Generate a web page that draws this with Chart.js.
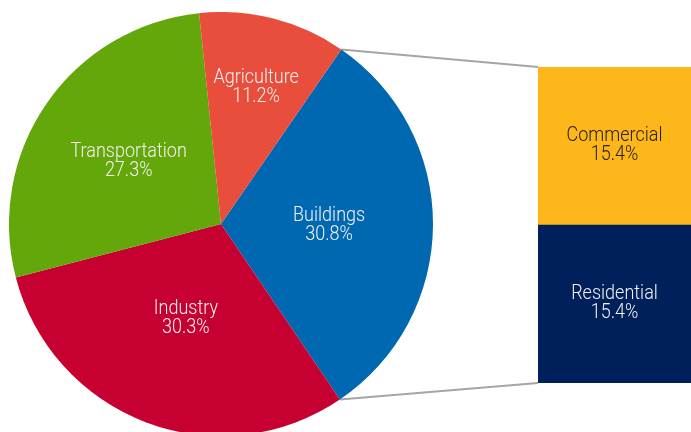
<!DOCTYPE html>
<html>
<head>
<meta charset="utf-8">
<script src="https://cdn.jsdelivr.net/npm/chart.js@4"></script>
<style>
  html, body { margin: 0; padding: 0; background: #ffffff; }
  #wrap { position: relative; width: 691px; height: 432px; overflow: hidden; }
  #lines { position: absolute; left: 0; top: 0; }
  #pieChart { position: absolute; left: 9px; top: 12px; }
  #barChart { position: absolute; left: 538px; top: 67px; }
</style>
</head>
<body>
<div id="wrap">
  <canvas id="lines" width="691" height="432"></canvas>
  <canvas id="pieChart" width="424" height="424"></canvas>
  <canvas id="barChart" width="153" height="316"></canvas>
</div>
<script>
// pie: share of emissions by sector
const sectors = ['Buildings', 'Industry', 'Transportation', 'Agriculture'];
const sectorShares = [30.8, 30.3, 27.3, 11.2];
const sectorColors = ['#0067b1', '#c70032', '#64a70b', '#e84e3b'];

// breakdown of the buildings slice (bottom of stack first)
const subSectors = ['Residential', 'Commercial'];
const subShares = [15.4, 15.4];
const subColors = ['#00205b', '#fdb71a'];
const subTextColors = ['#f2f2f2', '#222222'];

// how far out (fraction of radius) each pie label sits
const labelRadius = [0.51, 0.47, 0.53, 0.67];

const labelFont = '300 20px Roboto, sans-serif';

// the original uses a narrow face, so squeeze the text a little
function drawTwoLines(ctx, x, y, top, bottom, color) {
    ctx.save();
    ctx.font = labelFont;
    ctx.fillStyle = color;
    ctx.textAlign = 'center';
    ctx.textBaseline = 'alphabetic';
    ctx.translate(x, y);
    ctx.scale(0.9, 1);
    ctx.fillText(top, 0, -3);
    ctx.fillText(bottom, 0, 16);
    ctx.restore();
}

const pieLabels = {
    id: 'pieLabels',
    afterDatasetsDraw(chart) {
        const ctx = chart.ctx;
        const meta = chart.getDatasetMeta(0);
        meta.data.forEach((arc, i) => {
            const p = arc.getProps(['x', 'y', 'startAngle', 'endAngle', 'outerRadius'], true);
            const mid = (p.startAngle + p.endAngle) / 2;
            const r = p.outerRadius * labelRadius[i];
            const lx = p.x + Math.cos(mid) * r;
            const ly = p.y + Math.sin(mid) * r;
            drawTwoLines(ctx, lx, ly, sectors[i], sectorShares[i].toFixed(1) + '%', '#f2f2f2');
        });
    }
};

const barLabels = {
    id: 'barLabels',
    afterDatasetsDraw(chart) {
        const ctx = chart.ctx;
        chart.data.datasets.forEach((ds, i) => {
            const bar = chart.getDatasetMeta(i).data[0];
            const p = bar.getProps(['x', 'y', 'base'], true);
            drawTwoLines(ctx, p.x, (p.y + p.base) / 2 - 2, subSectors[i], subShares[i].toFixed(1) + '%', subTextColors[i]);
        });
    }
};

const pieChart = new Chart(document.getElementById('pieChart').getContext('2d'), {
    type: 'pie',
    data: {
        labels: sectors,
        datasets: [{
            data: sectorShares,
            backgroundColor: sectorColors,
            borderWidth: 0
        }]
    },
    options: {
        responsive: false,
        animation: false,
        // start so the buildings slice is centred on 3 o'clock
        rotation: 90 - sectorShares[0] * 3.6 / 2,
        layout: { padding: 0 },
        plugins: { legend: { display: false }, tooltip: { enabled: false } }
    },
    plugins: [pieLabels]
});

const barChart = new Chart(document.getElementById('barChart').getContext('2d'), {
    type: 'bar',
    data: {
        labels: ['Buildings'],
        datasets: subSectors.map((name, i) => ({
            label: name,
            data: [subShares[i]],
            backgroundColor: subColors[i],
            borderWidth: 0,
            barPercentage: 1,
            categoryPercentage: 1
        }))
    },
    options: {
        responsive: false,
        animation: false,
        layout: { padding: 0 },
        scales: {
            x: { stacked: true, display: false },
            y: { stacked: true, display: false, min: 0, max: subShares.reduce((a, b) => a + b, 0) }
        },
        plugins: { legend: { display: false }, tooltip: { enabled: false } }
    },
    plugins: [barLabels]
});

// connector lines from the buildings slice to the stacked bar
function drawConnectors() {
    const ctx = document.getElementById('lines').getContext('2d');
    const pieCanvas = document.getElementById('pieChart');
    const barCanvas = document.getElementById('barChart');
    const arc = pieChart.getDatasetMeta(0).data[0].getProps(['x', 'y', 'startAngle', 'endAngle', 'outerRadius'], true);
    const topBar = barChart.getDatasetMeta(1).data[0].getProps(['x', 'y', 'width'], true);
    const botBar = barChart.getDatasetMeta(0).data[0].getProps(['x', 'base', 'width'], true);

    const px = pieCanvas.offsetLeft, py = pieCanvas.offsetTop;
    const bx = barCanvas.offsetLeft, by = barCanvas.offsetTop;

    const a1 = [px + arc.x + Math.cos(arc.startAngle) * arc.outerRadius, py + arc.y + Math.sin(arc.startAngle) * arc.outerRadius];
    const a2 = [px + arc.x + Math.cos(arc.endAngle) * arc.outerRadius, py + arc.y + Math.sin(arc.endAngle) * arc.outerRadius];
    const b1 = [bx + topBar.x - topBar.width / 2, by + topBar.y];
    const b2 = [bx + botBar.x - botBar.width / 2, by + botBar.base];

    ctx.strokeStyle = '#a5a5a5';
    ctx.lineWidth = 2;
    ctx.beginPath();
    ctx.moveTo(a1[0], a1[1]);
    ctx.lineTo(b1[0], b1[1]);
    ctx.moveTo(a2[0], a2[1]);
    ctx.lineTo(b2[0], b2[1]);
    ctx.stroke();
}

drawConnectors();
</script>
</body>
</html>
